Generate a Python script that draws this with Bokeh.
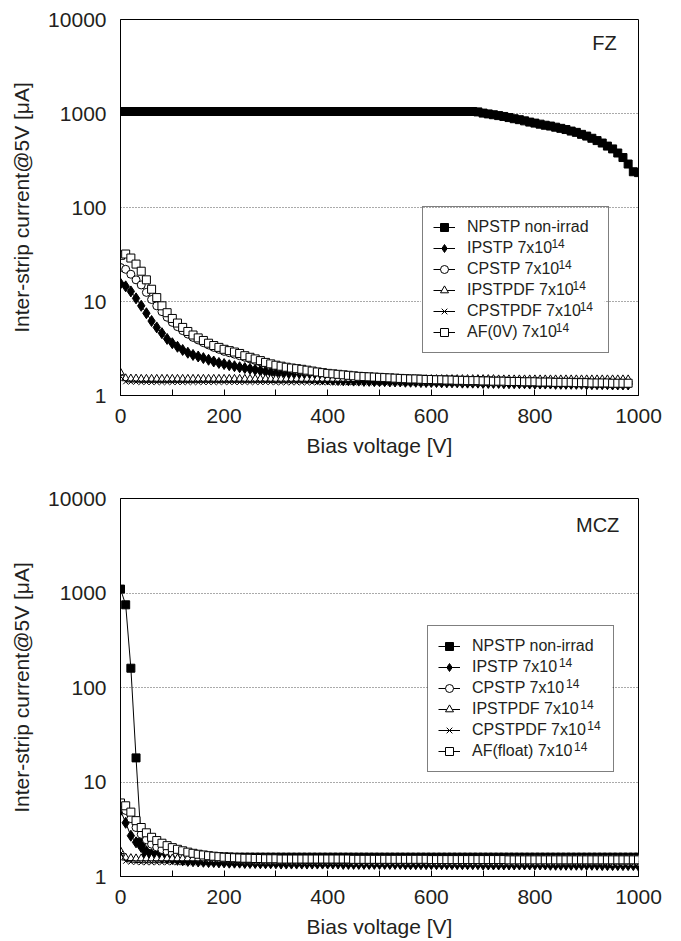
from bokeh.plotting import figure
from bokeh.layouts import column
from bokeh.models import (FixedTicker, NumeralTickFormatter, Legend, LegendItem, Label,
                          Range1d, BoxAnnotation)
from bokeh.embed import file_html
from bokeh.resources import INLINE

FONT = "Liberation Sans"
TXT = "#231f20"

# ---------------- data ----------------
V_FZ_NP = list(range(0, 1001, 10))   # bias voltage [V], FZ non-irradiated
V_FZ = list(range(0, 981, 10))       # bias voltage [V], FZ irradiated
V_MCZ = list(range(0, 1001, 10))     # bias voltage [V], MCZ

FZ_NPSTP = [
    1050, 1050, 1050, 1050, 1050, 1050, 1050, 1050, 1050, 1050,
    1050, 1050, 1050, 1050, 1050, 1050, 1050, 1050, 1050, 1050,
    1050, 1050, 1050, 1050, 1050, 1050, 1050, 1050, 1050, 1050,
    1050, 1050, 1050, 1050, 1050, 1050, 1050, 1050, 1050, 1050,
    1050, 1050, 1050, 1050, 1050, 1050, 1050, 1050, 1050, 1050,
    1050, 1050, 1050, 1050, 1050, 1050, 1050, 1050, 1050, 1050,
    1050, 1050, 1050, 1050, 1050, 1050, 1050, 1050, 1050, 1040,
    1010, 990, 970, 950, 930, 905, 880, 860, 835, 810,
    790, 770, 750, 735, 715, 695, 675, 650, 630, 600,
    575, 545, 515, 485, 450, 420, 380, 340, 290, 240,
    235]
FZ_IPSTP = [
    15.5, 14.5, 12.8, 10.8, 9.0, 7.5, 6.2, 5.3, 4.6, 4.0,
    3.6, 3.3, 3.05, 2.85, 2.7, 2.6, 2.5, 2.4, 2.3, 2.22,
    2.16, 2.1, 2.05, 2.0, 1.96, 1.92, 1.88, 1.84, 1.8, 1.76,
    1.72, 1.68, 1.65, 1.62, 1.59, 1.56, 1.54, 1.52, 1.5, 1.49,
    1.48, 1.47, 1.46, 1.45, 1.45, 1.44, 1.44, 1.43, 1.43, 1.42,
    1.42, 1.42, 1.41, 1.41, 1.41, 1.4, 1.4, 1.4, 1.39, 1.39,
    1.39, 1.39, 1.38, 1.38, 1.38, 1.38, 1.37, 1.37, 1.37, 1.37,
    1.36, 1.36, 1.36, 1.36, 1.35, 1.35, 1.35, 1.35, 1.35, 1.34,
    1.34, 1.34, 1.34, 1.34, 1.33, 1.33, 1.33, 1.33, 1.33, 1.33,
    1.32, 1.32, 1.32, 1.32, 1.32, 1.31, 1.31, 1.31, 1.31]
FZ_CPSTP = [
    23, 22, 19.5, 17, 15, 12.5, 10.5, 9.0, 7.8, 6.8,
    6.0, 5.4, 4.9, 4.5, 4.15, 3.9, 3.65, 3.45, 3.25, 3.1,
    2.95, 2.85, 2.75, 2.65, 2.55, 2.45, 2.36, 2.28, 2.2, 2.13,
    2.07, 2.01, 1.96, 1.91, 1.87, 1.83, 1.79, 1.76, 1.73, 1.7,
    1.67, 1.65, 1.63, 1.61, 1.59, 1.57, 1.56, 1.55, 1.54, 1.53,
    1.52, 1.51, 1.5, 1.49, 1.48, 1.48, 1.47, 1.46, 1.46, 1.45,
    1.45, 1.44, 1.44, 1.43, 1.43, 1.42, 1.42, 1.42, 1.41, 1.41,
    1.41, 1.4, 1.4, 1.4, 1.39, 1.39, 1.39, 1.38, 1.38, 1.38,
    1.38, 1.37, 1.37, 1.37, 1.37, 1.36, 1.36, 1.36, 1.36, 1.35,
    1.35, 1.35, 1.35, 1.35, 1.34, 1.34, 1.34, 1.34, 1.34]
FZ_IPSTPDF = [
    1.75, 1.52, 1.51, 1.51, 1.5, 1.5, 1.5, 1.5, 1.5, 1.5,
    1.5, 1.5, 1.5, 1.5, 1.5, 1.5, 1.5, 1.5, 1.5, 1.5,
    1.5, 1.5, 1.5, 1.5, 1.5, 1.5, 1.5, 1.5, 1.5, 1.5,
    1.5, 1.5, 1.5, 1.5, 1.5, 1.5, 1.5, 1.5, 1.5, 1.5,
    1.5, 1.5, 1.5, 1.5, 1.5, 1.49, 1.49, 1.49, 1.49, 1.49,
    1.49, 1.49, 1.49, 1.49, 1.49, 1.49, 1.49, 1.49, 1.49, 1.49,
    1.49, 1.49, 1.49, 1.49, 1.49, 1.49, 1.49, 1.49, 1.49, 1.49,
    1.49, 1.49, 1.49, 1.48, 1.48, 1.48, 1.48, 1.48, 1.48, 1.48,
    1.48, 1.48, 1.48, 1.48, 1.48, 1.48, 1.48, 1.48, 1.48, 1.48,
    1.48, 1.48, 1.48, 1.48, 1.48, 1.48, 1.48, 1.48, 1.48]
FZ_CPSTPDF = [
    1.6, 1.4, 1.39, 1.39, 1.38, 1.38, 1.38, 1.38, 1.38, 1.38,
    1.38, 1.38, 1.38, 1.38, 1.38, 1.38, 1.38, 1.38, 1.38, 1.38,
    1.38, 1.38, 1.38, 1.38, 1.38, 1.38, 1.38, 1.38, 1.38, 1.38,
    1.37, 1.37, 1.37, 1.37, 1.37, 1.37, 1.37, 1.37, 1.37, 1.37,
    1.37, 1.37, 1.37, 1.37, 1.37, 1.37, 1.37, 1.37, 1.37, 1.37,
    1.37, 1.37, 1.37, 1.37, 1.37, 1.36, 1.36, 1.36, 1.36, 1.36,
    1.36, 1.36, 1.36, 1.36, 1.36, 1.36, 1.36, 1.36, 1.36, 1.36,
    1.36, 1.36, 1.36, 1.36, 1.36, 1.35, 1.35, 1.35, 1.35, 1.35,
    1.35, 1.35, 1.35, 1.35, 1.35, 1.35, 1.35, 1.35, 1.35, 1.35,
    1.35, 1.35, 1.35, 1.35, 1.34, 1.34, 1.34, 1.34, 1.34]
FZ_AF = [
    31, 32, 29, 25, 21, 17, 13.5, 11, 9.0, 7.6,
    6.6, 5.9, 5.3, 4.8, 4.4, 4.1, 3.85, 3.6, 3.4, 3.25,
    3.1, 3.0, 2.9, 2.8, 2.65, 2.55, 2.45, 2.35, 2.25, 2.17,
    2.1, 2.05, 2.0, 1.96, 1.93, 1.9, 1.86, 1.82, 1.78, 1.75,
    1.72, 1.7, 1.68, 1.66, 1.64, 1.62, 1.6, 1.59, 1.58, 1.57,
    1.56, 1.55, 1.54, 1.53, 1.52, 1.51, 1.5, 1.5, 1.49, 1.48,
    1.48, 1.47, 1.47, 1.46, 1.46, 1.45, 1.45, 1.44, 1.44, 1.44,
    1.43, 1.43, 1.42, 1.42, 1.42, 1.41, 1.41, 1.41, 1.4, 1.4,
    1.4, 1.39, 1.39, 1.39, 1.38, 1.38, 1.38, 1.38, 1.37, 1.37,
    1.37, 1.36, 1.36, 1.36, 1.36, 1.35, 1.35, 1.35, 1.35]

MCZ_NPSTP = [
    1100, 750, 160, 18, 2.3, 1.75, 1.68, 1.65, 1.64, 1.63,
    1.63, 1.62, 1.62, 1.62, 1.62, 1.61, 1.61, 1.61, 1.61, 1.61,
    1.61, 1.61, 1.6, 1.6, 1.6, 1.6, 1.6, 1.6, 1.6, 1.6,
    1.6, 1.6, 1.6, 1.6, 1.6, 1.6, 1.6, 1.6, 1.6, 1.6,
    1.6, 1.6, 1.6, 1.6, 1.6, 1.6, 1.6, 1.6, 1.6, 1.6,
    1.6, 1.6, 1.6, 1.6, 1.6, 1.6, 1.6, 1.6, 1.6, 1.6,
    1.6, 1.6, 1.6, 1.6, 1.6, 1.6, 1.6, 1.6, 1.6, 1.6,
    1.6, 1.6, 1.6, 1.6, 1.6, 1.6, 1.6, 1.6, 1.6, 1.6,
    1.6, 1.6, 1.6, 1.6, 1.6, 1.6, 1.6, 1.6, 1.6, 1.6,
    1.6, 1.6, 1.6, 1.6, 1.6, 1.6, 1.6, 1.6, 1.6, 1.6,
    1.6]
MCZ_IPSTP = [
    5.0, 3.7, 2.7, 2.3, 2.05, 1.85, 1.72, 1.65, 1.6, 1.56,
    1.53, 1.5, 1.48, 1.46, 1.45, 1.44, 1.43, 1.42, 1.42, 1.41,
    1.41, 1.4, 1.4, 1.4, 1.39, 1.39, 1.39, 1.38, 1.38, 1.38,
    1.38, 1.37, 1.37, 1.37, 1.37, 1.37, 1.37, 1.37, 1.37, 1.37,
    1.37, 1.37, 1.37, 1.36, 1.36, 1.36, 1.36, 1.36, 1.36, 1.36,
    1.36, 1.36, 1.36, 1.36, 1.36, 1.35, 1.35, 1.35, 1.35, 1.35,
    1.35, 1.35, 1.35, 1.35, 1.35, 1.35, 1.35, 1.35, 1.35, 1.35,
    1.34, 1.34, 1.34, 1.34, 1.34, 1.34, 1.34, 1.34, 1.34, 1.34,
    1.34, 1.34, 1.34, 1.33, 1.33, 1.33, 1.33, 1.33, 1.33, 1.33,
    1.33, 1.33, 1.33, 1.32, 1.32, 1.32, 1.32, 1.32, 1.32, 1.32,
    1.3]
MCZ_CPSTP = [
    5.5, 5.0, 4.1, 3.3, 2.8, 2.45, 2.2, 2.05, 1.93, 1.84,
    1.77, 1.72, 1.68, 1.64, 1.61, 1.59, 1.57, 1.55, 1.54, 1.53,
    1.52, 1.51, 1.5, 1.5, 1.49, 1.49, 1.48, 1.48, 1.48, 1.47,
    1.47, 1.47, 1.47, 1.47, 1.47, 1.46, 1.46, 1.46, 1.46, 1.46,
    1.46, 1.46, 1.46, 1.46, 1.46, 1.45, 1.45, 1.45, 1.45, 1.45,
    1.45, 1.45, 1.45, 1.45, 1.45, 1.45, 1.45, 1.45, 1.45, 1.45,
    1.44, 1.44, 1.44, 1.44, 1.44, 1.44, 1.44, 1.44, 1.44, 1.44,
    1.44, 1.44, 1.44, 1.44, 1.44, 1.43, 1.43, 1.43, 1.43, 1.43,
    1.43, 1.43, 1.43, 1.43, 1.43, 1.43, 1.43, 1.43, 1.43, 1.43,
    1.43, 1.43, 1.43, 1.43, 1.43, 1.42, 1.42, 1.42, 1.42, 1.42,
    1.42]
MCZ_IPSTPDF = [
    1.85, 1.58, 1.56, 1.55, 1.55, 1.55, 1.55, 1.55, 1.55, 1.55,
    1.55, 1.55, 1.55, 1.55, 1.55, 1.55, 1.55, 1.55, 1.55, 1.55,
    1.55, 1.55, 1.55, 1.55, 1.55, 1.55, 1.55, 1.55, 1.55, 1.55,
    1.55, 1.55, 1.55, 1.55, 1.55, 1.55, 1.55, 1.55, 1.55, 1.55,
    1.55, 1.55, 1.55, 1.55, 1.55, 1.55, 1.55, 1.55, 1.55, 1.55,
    1.55, 1.55, 1.55, 1.55, 1.55, 1.54, 1.54, 1.54, 1.54, 1.54,
    1.54, 1.54, 1.54, 1.54, 1.54, 1.54, 1.54, 1.54, 1.54, 1.54,
    1.54, 1.54, 1.54, 1.54, 1.54, 1.54, 1.54, 1.54, 1.54, 1.54,
    1.54, 1.54, 1.54, 1.54, 1.54, 1.54, 1.54, 1.54, 1.54, 1.54,
    1.54, 1.54, 1.54, 1.54, 1.54, 1.54, 1.54, 1.54, 1.54, 1.54,
    1.54]
MCZ_CPSTPDF = [
    1.75, 1.45, 1.42, 1.41, 1.4, 1.4, 1.4, 1.4, 1.4, 1.4,
    1.4, 1.4, 1.4, 1.4, 1.4, 1.4, 1.4, 1.4, 1.4, 1.4,
    1.4, 1.4, 1.4, 1.4, 1.4, 1.4, 1.4, 1.4, 1.4, 1.4,
    1.4, 1.4, 1.4, 1.4, 1.4, 1.39, 1.39, 1.39, 1.39, 1.39,
    1.39, 1.39, 1.39, 1.39, 1.39, 1.39, 1.39, 1.39, 1.39, 1.39,
    1.39, 1.39, 1.39, 1.39, 1.39, 1.39, 1.39, 1.39, 1.39, 1.39,
    1.38, 1.38, 1.38, 1.38, 1.38, 1.38, 1.38, 1.38, 1.38, 1.38,
    1.38, 1.38, 1.38, 1.38, 1.38, 1.38, 1.38, 1.38, 1.38, 1.38,
    1.38, 1.38, 1.38, 1.38, 1.38, 1.37, 1.37, 1.37, 1.37, 1.37,
    1.37, 1.37, 1.37, 1.37, 1.37, 1.37, 1.37, 1.37, 1.37, 1.37,
    1.37]
MCZ_AF = [
    6.0, 5.6, 4.8, 3.9, 3.3, 2.9, 2.6, 2.4, 2.25, 2.12,
    2.02, 1.94, 1.87, 1.81, 1.76, 1.72, 1.69, 1.66, 1.64, 1.62,
    1.6, 1.59, 1.58, 1.57, 1.56, 1.56, 1.55, 1.55, 1.54, 1.54,
    1.54, 1.53, 1.53, 1.53, 1.53, 1.53, 1.53, 1.53, 1.53, 1.53,
    1.53, 1.53, 1.53, 1.53, 1.53, 1.52, 1.52, 1.52, 1.52, 1.52,
    1.52, 1.52, 1.52, 1.52, 1.52, 1.52, 1.52, 1.52, 1.52, 1.52,
    1.51, 1.51, 1.51, 1.51, 1.51, 1.51, 1.51, 1.51, 1.51, 1.51,
    1.51, 1.51, 1.51, 1.51, 1.51, 1.5, 1.5, 1.5, 1.5, 1.5,
    1.5, 1.5, 1.5, 1.5, 1.5, 1.5, 1.5, 1.5, 1.5, 1.5,
    1.5, 1.5, 1.5, 1.5, 1.5, 1.5, 1.5, 1.5, 1.5, 1.5,
    1.5]

FZ_LABELS = ["NPSTP non-irrad", "IPSTP 7x10", "CPSTP 7x10",
             "IPSTPDF 7x10", "CPSTPDF 7x10", "AF(0V) 7x10"]
MCZ_LABELS = ["NPSTP non-irrad", "IPSTP 7x10", "CPSTP 7x10",
              "IPSTPDF 7x10", "CPSTPDF 7x10", "AF(float) 7x10"]
LABEL_EXPONENTS = [None, "14", "14", "14", "14", "14"]

X_TICKS = [0, 200, 400, 600, 800, 1000]
X_MINOR = [100, 300, 500, 700, 900]
Y_TICKS = [1, 10, 100, 1000, 10000]

# marker styles: (marker, size, fill)
STYLES = [("square", 8, "black"), ("diamond", 11, "black"), ("circle", 8, "white"),
          ("triangle", 8, "white"), ("x", 7, None), ("square", 8, "white")]

# Arial / Liberation Sans advance widths (per 1000 em) for placing superscripts
ADV = {"I": 278, "P": 667, "S": 667, "T": 611, "C": 722, "D": 722, "F": 611,
       "A": 667, "V": 667, " ": 278, "7": 556, "x": 500, "1": 556, "0": 556,
       "(": 333, ")": 333, "f": 278, "l": 222, "o": 556, "a": 556, "t": 278}

LEG_FONT = 16
LEG_PAD = 10
LEG_GLYPH_W = 22
LEG_STANDOFF = 12
LEG_ROW = 20
LEG_SPACING = 1
LEG_LABEL_W = 131
X_LO, X_HI = 0, 1000
Y_DECADES = 4


def text_width(s, size):
    return sum(ADV.get(c, 556) for c in s) * size / 1000.0


def make_plot(title, series, labels, height, border_top, border_bottom, border_right,
              legend_loc, title_x, title_y):
    frame_w = 680 - 120 - border_right
    frame_h = height - border_top - border_bottom

    def dx(px):   # frame pixel offset -> data x
        return X_LO + (X_HI - X_LO) * px / frame_w

    def dy(py):   # frame pixel offset (from bottom) -> data y (log)
        return 10 ** (Y_DECADES * py / frame_h)

    p = figure(width=680, height=height, y_axis_type="log",
               x_range=Range1d(X_LO, X_HI), y_range=Range1d(1, 10 ** Y_DECADES),
               output_backend="svg", toolbar_location=None,
               min_border_left=120, min_border_right=border_right,
               min_border_top=border_top, min_border_bottom=border_bottom,
               background_fill_color="white", border_fill_color="white")
    p.outline_line_color = "black"
    p.outline_line_width = 1
    p.xgrid.visible = False
    p.ygrid.grid_line_color = "#555555"
    p.ygrid.grid_line_dash = "1 2"
    p.ygrid.grid_line_width = 1

    p.xaxis.ticker = FixedTicker(ticks=X_TICKS, minor_ticks=X_MINOR)
    p.yaxis.ticker = FixedTicker(ticks=Y_TICKS)
    p.yaxis.formatter = NumeralTickFormatter(format="0")
    for ax in (p.xaxis, p.yaxis):
        ax.axis_line_color = "black"
        ax.axis_line_width = 1
        ax.major_label_text_font = FONT
        ax.major_label_text_font_size = "21px"
        ax.major_label_text_color = TXT
        ax.axis_label_text_font = FONT
        ax.axis_label_text_font_size = "21px"
        ax.axis_label_text_font_style = "normal"
        ax.axis_label_text_color = TXT
        ax.major_tick_out = 0
        ax.minor_tick_out = 0
    p.xaxis.major_tick_in = 6
    p.xaxis.minor_tick_in = 6
    p.xaxis.major_tick_line_color = "black"
    p.xaxis.minor_tick_line_color = "black"
    p.yaxis.major_tick_in = 0
    p.yaxis.minor_tick_line_color = None
    p.yaxis.major_tick_line_color = None
    p.xaxis.major_label_standoff = 13
    p.yaxis.major_label_standoff = 14
    p.xaxis.axis_label_standoff = 8
    p.yaxis.axis_label_standoff = 12
    p.xaxis.axis_label = "Bias voltage [V]"
    p.yaxis.axis_label = "Inter-strip current@5V [\u03bcA]"

    items = []
    for (xs, ys), (marker, size, fill), lab in zip(series, STYLES, labels):
        lr = p.line(xs, ys, line_color="black", line_width=1)
        sr = p.scatter(xs, ys, marker=marker, size=size, line_color="black",
                       fill_color=fill, line_width=1)
        items.append(LegendItem(label=lab, renderers=[lr, sr]))

    n = len(labels)
    lx, ly = legend_loc
    leg_w = 2 * LEG_PAD + LEG_GLYPH_W + LEG_STANDOFF + LEG_LABEL_W
    leg_h = 2 * LEG_PAD + n * LEG_ROW + (n - 1) * LEG_SPACING

    # white backing box under the (transparent) legend
    p.add_layout(BoxAnnotation(left=dx(lx), right=dx(lx + leg_w), bottom=dy(ly),
                               top=dy(ly + leg_h), fill_color="white", fill_alpha=1,
                               line_color=None, level="annotation"))

    legend = Legend(items=items, location=legend_loc)
    legend.label_text_font = FONT
    legend.label_text_font_size = f"{LEG_FONT}px"
    legend.label_text_color = TXT
    legend.border_line_color = "black"
    legend.border_line_width = 1
    legend.background_fill_alpha = 0
    legend.glyph_width = LEG_GLYPH_W
    legend.glyph_height = LEG_ROW
    legend.label_height = LEG_ROW
    legend.label_width = LEG_LABEL_W
    legend.label_standoff = LEG_STANDOFF
    legend.spacing = LEG_SPACING
    legend.padding = LEG_PAD
    legend.margin = 0
    p.add_layout(legend, "center")

    # superscript exponents of the legend labels
    text_x0 = lx + LEG_PAD + LEG_GLYPH_W + LEG_STANDOFF
    for i, (lab, ex) in enumerate(zip(labels, LABEL_EXPONENTS)):
        if ex is None:
            continue
        row_center = ly + LEG_PAD + (n - 1 - i) * (LEG_ROW + LEG_SPACING) + LEG_ROW / 2
        p.add_layout(Label(x=dx(text_x0 + text_width(lab, LEG_FONT) + 2),
                           y=dy(row_center + 6), text=ex, level="overlay",
                           text_align="left", text_baseline="middle",
                           text_font=FONT, text_font_size="12px", text_color=TXT))

    p.add_layout(Label(x=title_x, y=title_y, text=title, text_align="right",
                       text_baseline="middle", text_font=FONT, text_font_size="20px",
                       text_color=TXT))
    return p


p1 = make_plot("FZ",
               [(V_FZ_NP, FZ_NPSTP), (V_FZ, FZ_IPSTP), (V_FZ, FZ_CPSTP),
                (V_FZ, FZ_IPSTPDF), (V_FZ, FZ_CPSTPDF), (V_FZ, FZ_AF)],
               FZ_LABELS, height=467, border_top=19, border_bottom=72, border_right=39,
               legend_loc=(302, 42), title_x=958, title_y=5600)
p2 = make_plot("MCZ",
               [(V_MCZ, MCZ_NPSTP), (V_MCZ, MCZ_IPSTP), (V_MCZ, MCZ_CPSTP),
                (V_MCZ, MCZ_IPSTPDF), (V_MCZ, MCZ_CPSTPDF), (V_MCZ, MCZ_AF)],
               MCZ_LABELS, height=473, border_top=31, border_bottom=64, border_right=42,
               legend_loc=(307, 104), title_x=963, title_y=5200)

layout = column(p1, p2, spacing=0)
open("out.html", "w").write(file_html(layout, INLINE))
